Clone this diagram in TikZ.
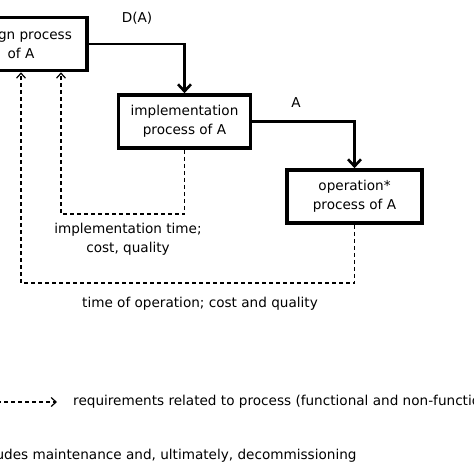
\documentclass[tikz,border=0pt]{standalone}
\usepackage{fontspec}
\setmainfont{DejaVu Sans}
\usetikzlibrary{arrows.meta}
\begin{document}
\begin{tikzpicture}[x=1pt,y=-1pt,
  every node/.style={font=\fontsize{13.6}{19}\selectfont, text=black},
  procbox/.style={draw, line width=3.6pt, minimum width=132pt, minimum height=53pt, align=center, inner sep=0pt},
  flow/.style={line width=2.6pt, -{Straight Barb[length=7pt,width=13pt,line width=2.6pt]}},
  req/.style={line width=1.2pt, dash pattern=on 4pt off 3pt, -{Straight Barb[length=5pt,width=9pt,line width=1.2pt]}},
  lbl/.style={align=center, inner sep=0pt}]
\useasboundingbox[clip] (0,0) rectangle (474,474);
\node[procbox] (des) at (21,44) {design process\\of A};
\node[procbox] (imp) at (184.5,121.5) {implementation\\process of A};
\node[procbox, minimum width=135pt] (op) at (354.5,196.5) {operation*\\process of A};
\coordinate (c1) at (184.5,44);
\coordinate (c2) at (354.5,121.5);
\draw[flow] (des.east) -- (c1) -- (imp.north);
\draw[flow] (imp.east) -- (c2) -- (op.north);
\node[lbl] (lda) at (137,18) {D(A)};
\node[lbl] (la) at (296,103) {A};
\coordinate (d1) at (184.5,214);
\coordinate (d2) at (61,214);
\draw[req] (imp.south) -- (d1) -- (d2) -- (d2 |- des.south);
\coordinate (e1) at (354.5,283);
\coordinate (e2) at (21,283);
\draw[req] (op.south) -- (e1) -- (e2) -- (des.south);
\node[lbl] (limp) at (128,239) {implementation time;\\cost, quality};
\node[lbl] (lop) at (200,304) {time of operation; cost and quality};
\coordinate (g1) at (-10,402);
\coordinate (g2) at (57,402);
\draw[req] (g1) -- (g2);
\node[lbl, anchor=west] (lg) at (73,402) {requirements related to process (functional and non-functional)};
\node[lbl, anchor=base west] (fn) at (4,459) {\llap{* inclu}des maintenance and, ultimately, decommissioning};
\end{tikzpicture}
\end{document}
